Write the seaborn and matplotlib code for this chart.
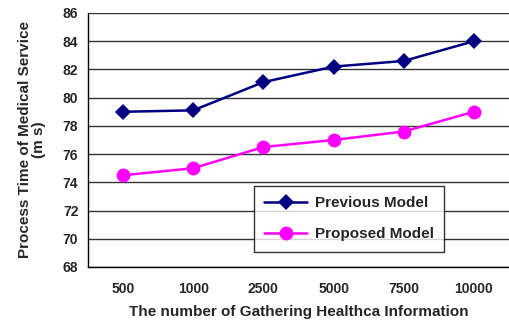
import matplotlib
matplotlib.use("Agg")
import matplotlib.pyplot as plt
import seaborn as sns
import pandas as pd
from matplotlib.ticker import FixedLocator

categories = ["500", "1000", "2500", "5000", "7500", "10000"]
previous_model = [79.0, 79.1, 81.1, 82.2, 82.6, 84.0]
proposed_model = [74.5, 75.0, 76.5, 77.0, 77.6, 79.0]
yticks = [68, 70, 72, 74, 76, 78, 80, 82, 84, 86]

sns.set_style("white")
plt.rcParams['font.family'] = ['Liberation Sans', 'DejaVu Sans']

df = pd.DataFrame({
    "x": list(range(len(categories))) * 2,
    "y": previous_model + proposed_model,
    "series": ["Previous Model"] * len(categories) + ["Proposed Model"] * len(categories),
})

fig = plt.figure(figsize=(5.09, 3.23), dpi=100)
ax = fig.add_axes([0.1729, 0.1734, 0.8271, 0.7864])

sns.lineplot(data=df, x="x", y="y", hue="series", style="series",
             palette={"Previous Model": "#000080", "Proposed Model": "#FF00FF"},
             markers={"Previous Model": "D", "Proposed Model": "o"},
             dashes=False, markersize=8, linewidth=1.8, markeredgewidth=0,
             ax=ax)
for line in ax.get_lines():
    if line.get_marker() == "o":
        line.set_markersize(10)

ax.set_xlim(-0.5, len(categories) - 0.5)
ax.set_ylim(68, 86)
ax.set_yticks(yticks)
ax.set_yticklabels([str(v) for v in yticks], fontsize=10, fontweight="bold")
ax.set_xticks(range(len(categories)))
ax.set_xticklabels(categories, fontsize=10, fontweight="bold")
ax.tick_params(axis="x", which="major", length=0, pad=11)
ax.tick_params(axis="y", length=0, pad=7)
ax.xaxis.set_minor_locator(FixedLocator([i + 0.5 for i in range(len(categories) - 1)]))
ax.tick_params(axis="x", which="minor", length=4, direction="in", color="black", width=1)

ax.yaxis.grid(True, color="#333333", linewidth=1)
ax.set_axisbelow(True)
for s in ["top", "right"]:
    ax.spines[s].set_visible(False)
for s in ["left", "bottom"]:
    ax.spines[s].set_color("black")
    ax.spines[s].set_linewidth(1)

ax.set_xlabel("The number of Gathering Healthca Information", fontsize=11,
              fontweight="bold", labelpad=6)
ax.set_ylabel("Process Time of Medical Service\n(m s)", fontsize=11,
              fontweight="bold", labelpad=12, linespacing=1.0)

leg = ax.legend(loc="lower left", bbox_to_anchor=(0.375, 0.03), frameon=True,
                fancybox=False, edgecolor="black",
                prop={"weight": "bold", "size": 11}, handlelength=2.8,
                handletextpad=0.5, borderpad=0.7, labelspacing=1.1)
leg.get_frame().set_linewidth(1)

fig.savefig("out.png", dpi=100)
